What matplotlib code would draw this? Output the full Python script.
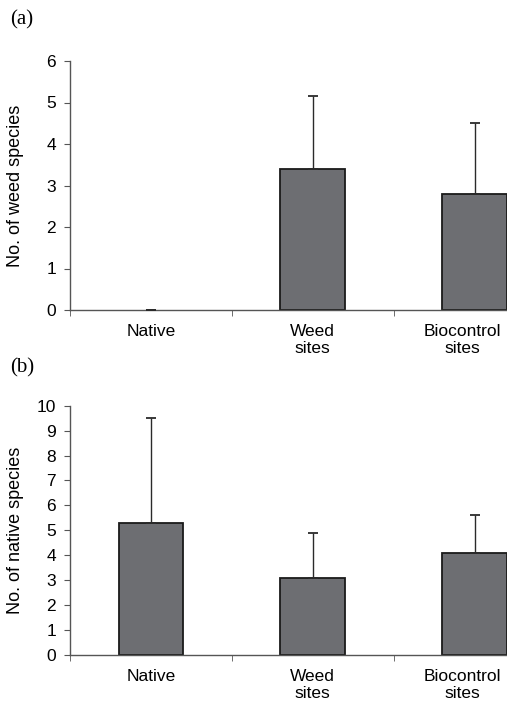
import numpy as np
import matplotlib
matplotlib.use('Agg')
import matplotlib.pyplot as plt
from matplotlib.transforms import ScaledTranslation

plt.rcParams['font.family'] = ['Liberation Sans', 'DejaVu Sans']

# data
categories = ['Native', 'Weed\nsites', 'Biocontrol\nsites']
weed_means = [0.0, 3.4, 2.8]
weed_err = [0.0, 1.75, 1.7]
native_means = [5.3, 3.1, 4.1]
native_err = [4.2, 1.77, 1.53]

bar_color = '#6d6e72'
axis_color = '#555555'

fig = plt.figure(figsize=(5.07, 7.05), dpi=100)

def draw_panel(ax, means, errs, ylabel, ymax):
    x = np.arange(len(categories))
    lws = [1.3 if m > 0 else 0 for m in means]
    ax.bar(x, means, width=0.4, color=bar_color, edgecolor='#1a1a1a', linewidth=lws, zorder=2)
    ax.errorbar(x, means, yerr=[np.zeros(len(errs)), errs], fmt='none',
                ecolor='#2a2a2a', elinewidth=1.0, capsize=3.6, capthick=1.3, zorder=3)
    ax.set_xlim(-0.5, 2.2)
    ax.set_ylim(0, ymax)
    ax.set_yticks(np.arange(0, ymax + 1, 1))
    ax.set_xticks(x)
    ax.set_xticklabels(categories, fontsize=12.5)
    ax.set_xticks([-0.5, 0.5, 1.5], minor=True)
    ax.tick_params(axis='x', which='major', length=0, pad=10)
    ax.tick_params(axis='x', which='minor', length=4, direction='out', color=axis_color)
    ax.tick_params(axis='y', length=4, direction='out', color=axis_color, labelsize=12.5, pad=6)
    # last label sits a little left of its bar so it fits in the figure
    lbl = ax.get_xticklabels()[2]
    lbl.set_transform(lbl.get_transform() + ScaledTranslation(-12 / 100, 0, fig.dpi_scale_trans))
    for s in ['top', 'right']:
        ax.spines[s].set_visible(False)
    for s in ['left', 'bottom']:
        ax.spines[s].set_color(axis_color)
        ax.spines[s].set_linewidth(1.0)
    ax.set_ylabel(ylabel, fontsize=13)
    ax.yaxis.set_label_coords(-0.125, 0.5)
    ax.yaxis.label.set_va('center')

ax1 = fig.add_axes([70 / 507, 1 - 310 / 705, 437 / 507, 249 / 705])
draw_panel(ax1, weed_means, weed_err, 'No. of weed species', 6)

ax2 = fig.add_axes([70 / 507, 1 - 654.7 / 705, 437 / 507, 249 / 705])
draw_panel(ax2, native_means, native_err, 'No. of native species', 10)

fig.text(10 / 507, 1 - 10 / 705, '(a)', fontsize=15, family='Liberation Serif', va='top', ha='left')
fig.text(10 / 507, 1 - 358 / 705, '(b)', fontsize=15, family='Liberation Serif', va='top', ha='left')

fig.savefig('out.png', dpi=100)
